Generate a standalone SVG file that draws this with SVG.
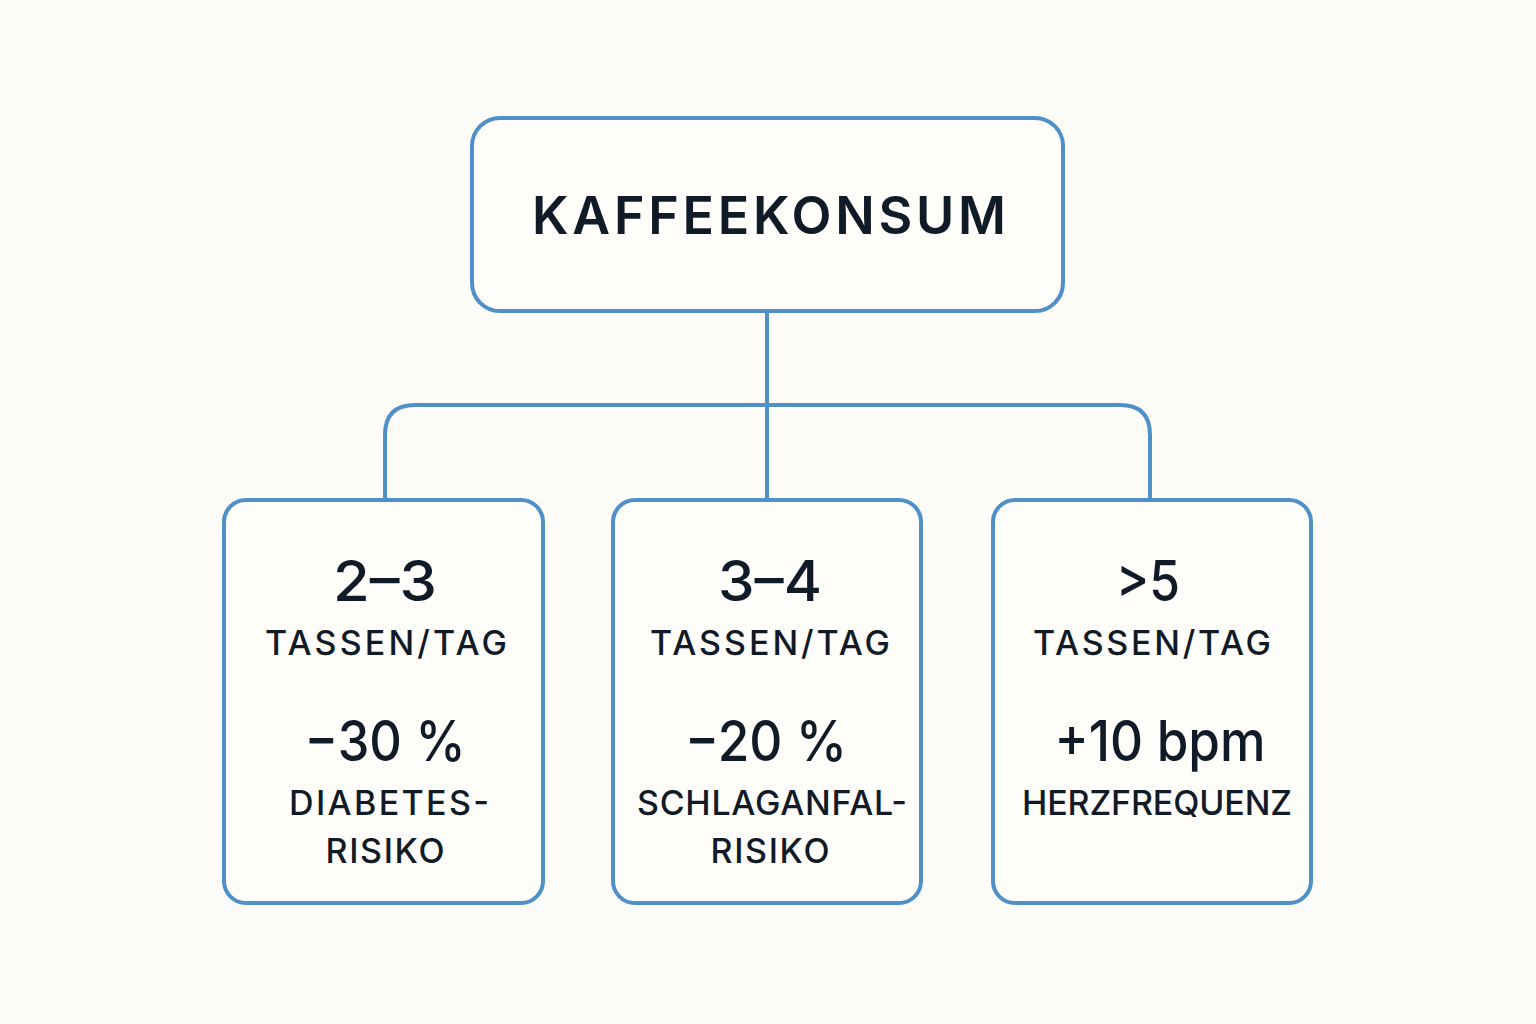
<svg xmlns="http://www.w3.org/2000/svg" width="1536" height="1024" viewBox="0 0 1536 1024">
<style>
.box{fill:#fefdfa;stroke:#5090c8;stroke-width:4}
.conn{fill:none;stroke:#5090c8;stroke-width:4}
text{font-family:Inter,"Noto Sans","Liberation Sans",sans-serif;fill:#111b27;text-anchor:middle}
.title{font-size:52px;font-weight:600}
.big{font-size:56px;font-weight:500}
.lab{font-size:34px;font-weight:500}
</style>
<rect width="1536" height="1024" fill="#fcfbf7"/>
<g id="connectors">
<path class="conn" d="M767 311 V498"/>
<path class="conn" d="M385 498 V435 Q385 405 415 405 H1120 Q1150 405 1150 435 V498"/>
</g>
<g id="root">
<rect class="box" x="472" y="118" width="591" height="193" rx="28"/>
<text class="title" x="769" y="234" textLength="474" lengthAdjust="spacing">KAFFEEKONSUM</text>
</g>
<g id="node1">
<rect class="box" x="224" y="500" width="319" height="403" rx="22"/>
<text class="big" x="385" y="601" textLength="104" lengthAdjust="spacingAndGlyphs">2–3</text>
<text class="lab" x="386" y="655" textLength="242" lengthAdjust="spacing">TASSEN/TAG</text>
<text class="big" x="385" y="761" textLength="161" lengthAdjust="spacingAndGlyphs">−30 %</text>
<text class="lab" x="389" y="815" textLength="200" lengthAdjust="spacing">DIABETES-</text>
<text class="lab" x="385" y="863" textLength="119" lengthAdjust="spacing">RISIKO</text>
</g>
<g id="node2">
<rect class="box" x="613" y="500" width="308" height="403" rx="22"/>
<text class="big" x="770" y="601" textLength="104" lengthAdjust="spacingAndGlyphs">3–4</text>
<text class="lab" x="770" y="655" textLength="240" lengthAdjust="spacing">TASSEN/TAG</text>
<text class="big" x="766" y="761" textLength="162" lengthAdjust="spacingAndGlyphs">−20 %</text>
<text class="lab" x="772" y="815" textLength="270" lengthAdjust="spacing">SCHLAGANFAL-</text>
<text class="lab" x="770" y="863" textLength="119" lengthAdjust="spacing">RISIKO</text>
</g>
<g id="node3">
<rect class="box" x="993" y="500" width="318" height="403" rx="22"/>
<text class="big" x="1148" y="601" textLength="64" lengthAdjust="spacingAndGlyphs">&gt;5</text>
<text class="lab" x="1152" y="655" textLength="238" lengthAdjust="spacing">TASSEN/TAG</text>
<text class="big" x="1160" y="761" textLength="211" lengthAdjust="spacingAndGlyphs">+10 bpm</text>
<text class="lab" x="1157" y="815" textLength="270" lengthAdjust="spacing">HERZFREQUENZ</text>
</g>
</svg>
